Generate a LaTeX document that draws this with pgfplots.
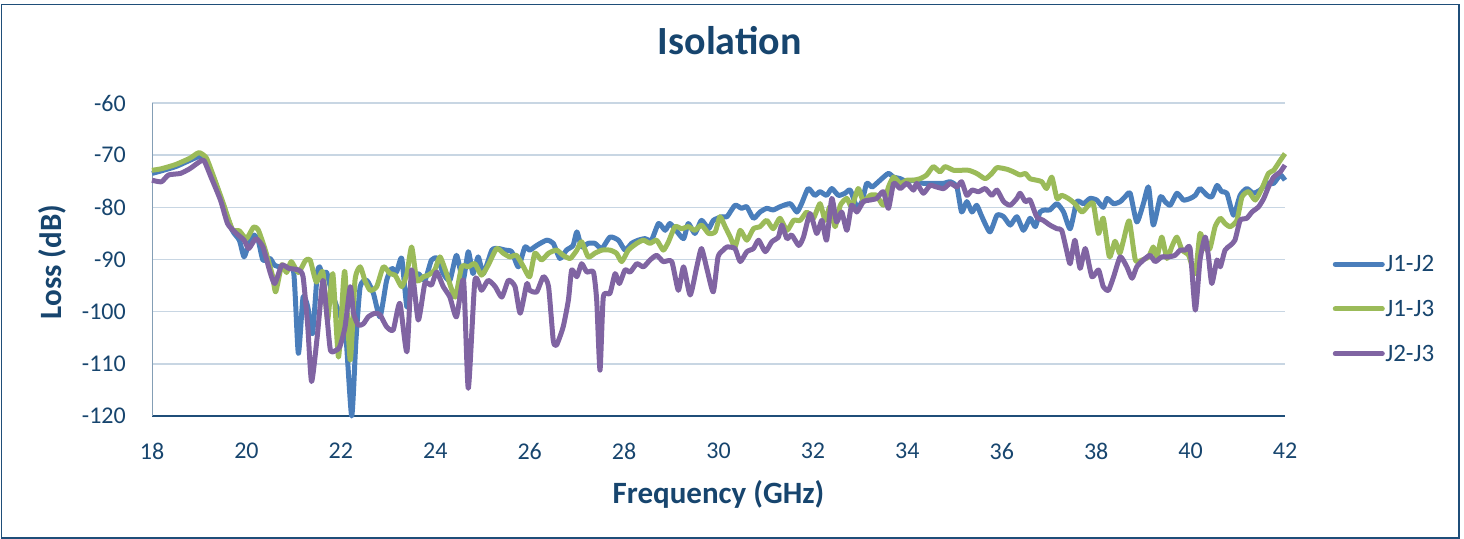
\documentclass[border=0pt]{standalone}
\usepackage{pgfplots}
\usepackage{pgfplotstable}
\pgfplotsset{compat=1.18}
\usepackage{fontspec}
\setmainfont{Carlito}
\definecolor{cblue}{RGB}{74,126,187}
\definecolor{cgreen}{RGB}{155,187,89}
\definecolor{cpurple}{RGB}{128,100,162}
\definecolor{ctext}{RGB}{23,69,110}
\definecolor{cgrid}{RGB}{200,214,227}
\definecolor{cframe}{RGB}{31,78,121}

\pgfplotstableread{
f v
18.0 -73.5
18.2 -73.0
18.5 -72.2
18.8 -71.0
19.0 -70.3
19.15 -71.3
19.3 -74.2
19.5 -79.3
19.7 -84.4
19.85 -86.3
19.95 -89.5
20.05 -87.0
20.15 -85.3
20.25 -86.3
20.35 -90.1
20.5 -89.8
20.6 -91.1
20.8 -91.7
21.0 -92.4
21.1 -108.0
21.2 -97.2
21.3 -99.1
21.4 -104.2
21.5 -92.7
21.55 -91.4
21.6 -92.7
21.7 -92.5
21.8 -96
21.95 -100
22.1 -104
22.23 -120
22.32 -105.5
22.41 -95.2
22.55 -94.0
22.69 -96.5
22.83 -101.0
22.97 -94.0
23.08 -91.7
23.18 -92.4
23.29 -89.8
23.4 -99.1
23.5 -94.0
23.64 -92.7
23.78 -94.0
23.92 -90.1
24.05 -89.8
24.17 -92.7
24.31 -94.0
24.45 -89.2
24.59 -94.0
24.7 -88.5
24.8 -92.7
24.91 -89.5
25.02 -92.7
25.2 -88.2
25.34 -87.9
25.48 -88.2
25.62 -88.5
25.76 -91.4
25.9 -87.6
26.0 -88.2
26.15 -87.3
26.36 -86.3
26.5 -86.9
26.64 -89.8
26.78 -88.2
26.92 -87.3
27.0 -84.7
27.1 -87.6
27.24 -86.9
27.38 -86.9
27.53 -87.9
27.7 -85.7
27.88 -86.3
28.02 -88.2
28.16 -86.9
28.3 -86.3
28.44 -86.0
28.58 -86.3
28.73 -83.1
28.87 -84.4
28.97 -83.1
29.1 -84.4
29.26 -86.0
29.36 -83.1
29.5 -85.0
29.64 -82.5
29.79 -84.1
29.89 -82.5
30.07 -81.8
30.18 -81.8
30.35 -79.6
30.49 -80.2
30.6 -79.9
30.74 -82.1
30.88 -80.9
31.02 -80.2
31.16 -80.5
31.3 -79.9
31.52 -79.3
31.66 -80.9
31.76 -79.3
31.9 -76.4
32.04 -77.7
32.15 -77.0
32.29 -77.7
32.4 -76.4
32.54 -77.7
32.68 -77.3
32.79 -76.7
32.93 -79.9
33.04 -78.9
33.14 -75.4
33.25 -76.1
33.35 -75.4
33.46 -74.5
33.6 -73.5
33.71 -74.2
33.85 -74.5
33.99 -75.1
34.13 -74.8
34.2 -75.1
34.34 -75.4
34.48 -75.4
34.62 -75.4
34.77 -75.4
34.91 -75.1
35.05 -76.1
35.15 -80.9
35.26 -78.9
35.37 -80.9
35.47 -79.6
35.58 -81.8
35.75 -84.7
35.9 -81.5
36.04 -81.8
36.18 -83.4
36.32 -81.8
36.46 -84.4
36.6 -82.1
36.71 -83.7
36.81 -80.9
36.92 -80.5
37.02 -80.5
37.17 -79.3
37.31 -80.9
37.45 -84.1
37.59 -78.9
37.73 -79.3
37.87 -78.3
38.01 -78.6
38.15 -80.0
38.23 -78.3
38.37 -79.3
38.51 -78.9
38.61 -78.0
38.72 -77.3
38.86 -82.8
39.0 -79.3
39.11 -76.1
39.21 -83.4
39.36 -78.0
39.46 -78.9
39.57 -79.6
39.71 -77.3
39.85 -78.6
39.99 -78.3
40.1 -77.7
40.2 -76.4
40.35 -77.7
40.45 -78.0
40.56 -75.8
40.66 -77.0
40.77 -77.3
40.91 -81.5
41.05 -77.7
41.19 -76.4
41.33 -77.3
41.47 -76.7
41.61 -75.4
41.76 -75.4
41.9 -73.8
42.0 -74.8
}\tblA

\pgfplotstableread{
f v
18.0 -72.9
18.2 -72.6
18.5 -71.8
18.8 -70.6
18.9 -70.0
19.0 -69.5
19.15 -70.5
19.3 -74.0
19.5 -79.0
19.7 -84.2
19.85 -84.5
20.0 -86.0
20.15 -83.8
20.25 -84.3
20.4 -88.2
20.55 -93.0
20.62 -96.2
20.75 -91.0
20.85 -92.5
20.95 -90.4
21.1 -92.5
21.25 -90.2
21.35 -90.1
21.48 -94.3
21.62 -92.4
21.72 -101.6
21.83 -92.7
21.95 -108.7
22.05 -95.0
22.09 -92.7
22.2 -109.3
22.3 -94.0
22.41 -91.4
22.51 -94.0
22.62 -95.9
22.76 -95.2
22.9 -91.4
23.04 -92.7
23.15 -93.0
23.29 -95.2
23.4 -92.7
23.5 -87.6
23.61 -94.0
23.75 -93.3
23.85 -93.0
23.99 -92.0
24.1 -89.5
24.24 -92.7
24.42 -97.2
24.56 -91.4
24.7 -91.4
24.84 -90.8
24.98 -93.0
25.12 -91.1
25.3 -87.9
25.44 -88.8
25.58 -89.5
25.72 -89.2
25.87 -91.4
26.0 -93.3
26.11 -88.8
26.25 -90.1
26.4 -88.8
26.57 -88.2
26.71 -89.2
26.86 -89.8
27.0 -88.2
27.1 -86.6
27.24 -89.5
27.38 -88.8
27.53 -88.2
27.7 -88.2
27.84 -88.8
27.95 -90.4
28.09 -88.2
28.27 -86.9
28.41 -86.3
28.55 -86.9
28.69 -86.3
28.83 -88.2
28.94 -86.6
29.08 -83.7
29.22 -84.1
29.36 -83.7
29.5 -84.4
29.64 -83.4
29.79 -85.0
29.93 -84.7
30.03 -81.8
30.14 -83.7
30.25 -85.7
30.35 -87.6
30.46 -84.4
30.6 -86.3
30.74 -84.1
30.88 -83.7
31.02 -82.5
31.16 -84.1
31.3 -82.1
31.45 -84.4
31.59 -82.5
31.73 -82.5
31.87 -80.9
32.01 -82.1
32.15 -79.3
32.26 -82.5
32.36 -79.9
32.47 -83.7
32.58 -79.6
32.72 -78.3
32.82 -79.9
32.96 -76.4
33.07 -78.9
33.21 -77.7
33.35 -77.7
33.49 -79.6
33.6 -76.1
33.71 -74.2
33.85 -75.4
33.99 -74.8
34.13 -74.8
34.27 -74.5
34.41 -73.8
34.55 -72.2
34.69 -73.2
34.8 -72.2
34.98 -72.9
35.12 -72.9
35.3 -72.9
35.47 -73.5
35.65 -74.5
35.79 -73.5
35.9 -72.4
36.11 -72.7
36.25 -73.2
36.39 -73.8
36.5 -73.5
36.6 -74.5
36.74 -74.8
36.85 -75.1
36.95 -76.4
37.06 -74.2
37.17 -78.3
37.27 -77.7
37.41 -78.3
37.55 -79.3
37.7 -80.9
37.84 -79.6
37.94 -79.3
38.05 -85.0
38.15 -82.1
38.28 -89.5
38.4 -86.5
38.5 -88.8
38.58 -86.3
38.7 -82.6
38.83 -90.1
38.97 -90.1
39.11 -89.5
39.21 -87.6
39.29 -89.5
39.39 -85.7
39.5 -89.8
39.6 -87.6
39.71 -85.7
39.82 -88.2
39.96 -89.2
40.1 -92.7
40.2 -85.0
40.31 -87.9
40.41 -87.9
40.52 -83.7
40.63 -82.1
40.73 -83.1
40.84 -83.7
40.98 -82.5
41.09 -78.0
41.23 -77.0
41.37 -78.6
41.51 -76.4
41.65 -73.5
41.76 -72.9
41.9 -71.0
42.0 -69.7
}\tblB

\pgfplotstableread{
f v
18.0 -74.8
18.2 -75.1
18.35 -73.8
18.6 -73.5
18.8 -72.6
19.0 -71.3
19.1 -71.0
19.25 -74.2
19.45 -78.6
19.6 -83.1
19.75 -84.7
19.95 -86.3
20.05 -87.9
20.2 -86.0
20.35 -87.6
20.5 -92.4
20.6 -94.6
20.75 -91.1
20.9 -91.7
21.1 -92.0
21.2 -93.3
21.3 -102.9
21.38 -113.4
21.5 -104.8
21.62 -94.0
21.7 -100.3
21.78 -107.4
21.9 -107.4
21.98 -106.7
22.09 -102.9
22.2 -95.2
22.27 -100.3
22.37 -102.6
22.48 -102.3
22.58 -101.0
22.72 -100.3
22.83 -100.6
22.97 -102.9
23.11 -103.5
23.25 -98.4
23.4 -107.7
23.5 -92.0
23.64 -101.6
23.78 -94.6
23.92 -94.9
24.03 -92.4
24.17 -95.2
24.31 -97.2
24.45 -101.0
24.6 -94.0
24.7 -114.7
24.84 -94.0
24.98 -95.9
25.12 -94.0
25.27 -95.2
25.41 -97.2
25.55 -94.0
25.69 -95.2
25.8 -100.3
25.94 -94.6
26.0 -95.9
26.15 -96.2
26.29 -93.3
26.4 -95.2
26.5 -105.5
26.57 -106.4
26.71 -102.9
26.82 -97.8
26.89 -92.0
27.0 -93.3
27.1 -90.8
27.21 -92.4
27.35 -92.4
27.42 -97.8
27.49 -111.2
27.56 -97.2
27.7 -96.5
27.81 -92.7
27.9 -94.6
28.02 -92.0
28.13 -92.4
28.27 -90.8
28.41 -91.4
28.55 -90.1
28.69 -89.2
28.83 -90.4
29.01 -90.4
29.15 -95.9
29.26 -91.4
29.4 -96.8
29.54 -91.4
29.64 -87.9
29.76 -92.0
29.89 -96.2
29.99 -89.5
30.1 -88.2
30.18 -87.6
30.35 -87.9
30.46 -90.4
30.6 -88.5
30.74 -87.9
30.85 -86.3
30.99 -88.5
31.13 -86.6
31.27 -85.7
31.34 -83.4
31.45 -86.0
31.55 -85.3
31.7 -87.3
31.8 -85.7
31.94 -81.2
32.08 -85.0
32.19 -82.5
32.29 -86.3
32.4 -78.3
32.5 -82.8
32.61 -80.9
32.72 -84.4
32.82 -79.6
32.93 -80.9
33.07 -78.9
33.21 -78.6
33.35 -78.3
33.49 -77.0
33.6 -80.2
33.71 -75.4
33.85 -76.4
33.99 -75.4
34.13 -76.7
34.2 -75.4
34.34 -77.3
34.48 -75.8
34.62 -76.1
34.77 -76.4
34.91 -75.4
35.05 -76.1
35.15 -75.1
35.26 -77.7
35.37 -76.7
35.51 -77.0
35.65 -76.4
35.79 -77.7
35.9 -76.7
36.04 -78.9
36.18 -79.6
36.32 -78.3
36.39 -77.3
36.5 -78.9
36.6 -78.6
36.74 -81.8
36.88 -82.5
37.02 -83.4
37.17 -84.1
37.27 -84.4
37.38 -88.5
37.45 -90.8
37.55 -86.3
37.66 -91.7
37.77 -87.9
37.91 -93.3
38.05 -92.0
38.15 -95.2
38.26 -95.9
38.37 -93.3
38.51 -89.5
38.65 -91.4
38.76 -93.6
38.86 -91.4
39.0 -90.1
39.14 -89.2
39.25 -90.4
39.39 -89.5
39.53 -89.5
39.67 -89.2
39.78 -88.2
39.89 -88.2
39.99 -87.9
40.1 -99.7
40.2 -90.1
40.31 -85.7
40.38 -89.5
40.45 -94.6
40.56 -90.1
40.63 -91.4
40.73 -88.2
40.84 -87.3
40.94 -86.3
41.05 -82.5
41.19 -82.1
41.3 -80.9
41.44 -79.9
41.55 -78.3
41.65 -76.1
41.76 -74.2
41.9 -73.2
42.0 -71.9
}\tblC

\begin{document}
\begin{tikzpicture}
\useasboundingbox (0,0) rectangle (1464bp,-539bp);
\draw[cframe, line width=1.5bp] (1.5bp,-4.5bp) rectangle (1459bp,-538bp);
\begin{axis}[
  scale only axis,
  width=1133bp, height=313bp,
  at={(152bp,-416bp)}, anchor=south west,
  xmin=18, xmax=42, ymin=-120, ymax=-60,
  xtick={18,20,...,42},
  ytick={-120,-110,...,-60},
  major tick length=0pt,
  axis lines*=left,
  x axis line style={draw=cframe, line width=1.6bp},
  y axis line style={draw=cframe!55, line width=1bp},
  ymajorgrids,
  major grid style={cgrid, line width=1.5bp},
  clip=false,
  /pgf/number format/assume math mode=true,
  tick label style={font=\fontsize{24bp}{28bp}\selectfont, text=ctext},
  yticklabel style={anchor=east, inner sep=0pt, xshift=-26bp},
  xticklabel style={anchor=north, inner sep=0pt, yshift=-27bp},
  title={Isolation},
  title style={at={(0.51,1.179)}, anchor=center, font=\fontsize{40bp}{46bp}\selectfont\bfseries, text=ctext},
  xlabel={Frequency (GHz)},
  xlabel style={at={(0.5,-0.249)}, anchor=center, font=\fontsize{31bp}{37bp}\selectfont\bfseries, text=ctext},
  ylabel={Loss (dB)},
  ylabel style={at={(-0.0883,0.492)}, anchor=center, font=\fontsize{31bp}{37bp}\selectfont\bfseries, text=ctext},
  legend cell align=left,
  legend style={at={(1.042,0.342)}, anchor=west, draw=none, fill=none, inner sep=0pt,
    row sep=26bp, font=\fontsize{25bp}{30bp}\selectfont, text=ctext,
    nodes={inner sep=0.5bp}},
  legend image code/.code={\draw[#1, line width=5bp, line cap=round] (0bp,0bp) -- (47bp,0bp);},
  every axis plot/.append style={line width=5bp, line join=round, smooth, tension=0.35},
]
\addplot[cblue] table[x=f, y=v] {\tblA};
\addlegendentry{J1-J2}
\addplot[cgreen] table[x=f, y=v] {\tblB};
\addlegendentry{J1-J3}
\addplot[cpurple] table[x=f, y=v] {\tblC};
\addlegendentry{J2-J3}
\end{axis}
\end{tikzpicture}
\end{document}
